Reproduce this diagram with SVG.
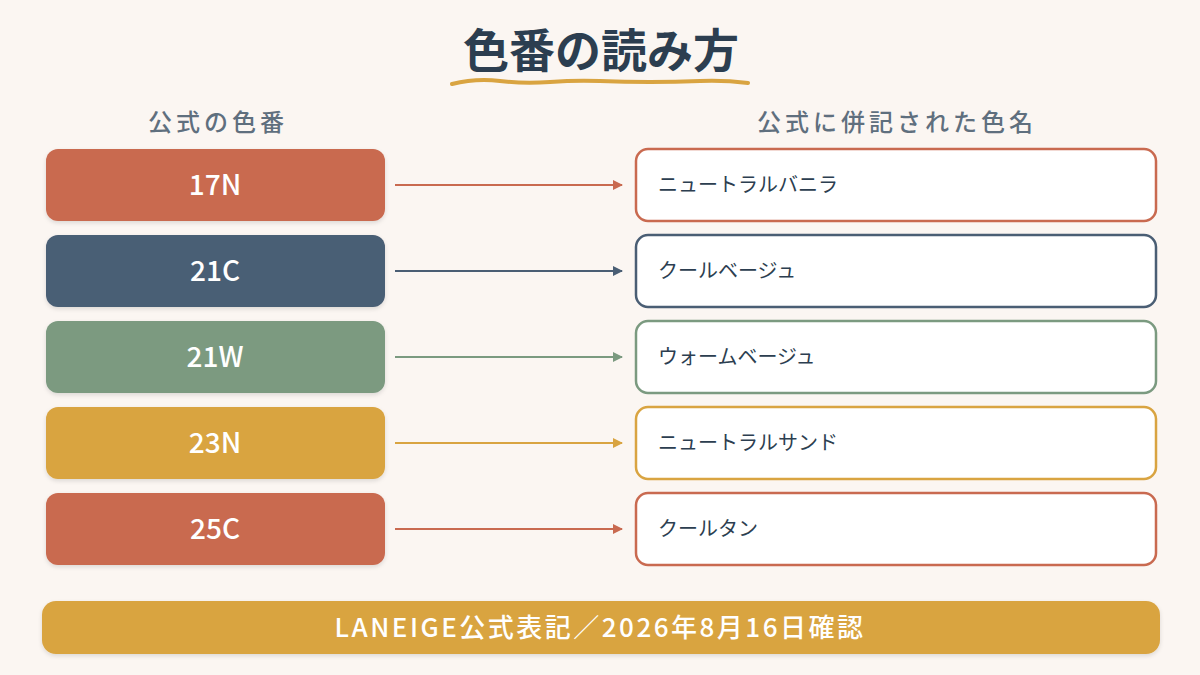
<svg xmlns="http://www.w3.org/2000/svg" width="1200" height="675" viewBox="0 0 1200 675">
<defs>
<style>
.jp{font-family:"Noto Sans CJK JP","Noto Sans",sans-serif}
.title{font-size:46px;font-weight:700;fill:#2C3E50}
.hdr{font-size:24px;font-weight:500;fill:#5F6F7E;letter-spacing:4px}
.code{font-size:28px;font-weight:500;fill:#FFFFFF}
.name{font-size:20px;fill:#2C3E50}
.cbox{stroke:none}
.nbox{fill:#FFFFFF;stroke-width:2.5}
.foot{font-size:26px;font-weight:500;fill:#FFFFFF;letter-spacing:2.5px}
.arr{stroke-width:2;fill:none}
</style>
<filter id="sh" x="-5%" y="-10%" width="110%" height="130%">
<feDropShadow dx="0" dy="2" stdDeviation="2" flood-color="#000" flood-opacity="0.12"/>
</filter>
<marker id="mT" markerWidth="10" markerHeight="10" refX="9" refY="5" orient="auto" markerUnits="userSpaceOnUse"><path d="M0,0 L10,5 L0,10 z" fill="#C96A50"/></marker>
<marker id="mS" markerWidth="10" markerHeight="10" refX="9" refY="5" orient="auto" markerUnits="userSpaceOnUse"><path d="M0,0 L10,5 L0,10 z" fill="#4A5E74"/></marker>
<marker id="mG" markerWidth="10" markerHeight="10" refX="9" refY="5" orient="auto" markerUnits="userSpaceOnUse"><path d="M0,0 L10,5 L0,10 z" fill="#7B9A80"/></marker>
<marker id="mY" markerWidth="10" markerHeight="10" refX="9" refY="5" orient="auto" markerUnits="userSpaceOnUse"><path d="M0,0 L10,5 L0,10 z" fill="#D9A441"/></marker>
</defs>
<rect width="1200" height="675" fill="#FBF6F2"/>
<g id="title">
<text class="jp title" x="601" y="67" text-anchor="middle">色番の読み方</text>
<path d="M452,84 Q476,78 500,81 T550,82 T600,81 T650,82 T700,81 T748,83" stroke="#D9A441" stroke-width="4" fill="none" stroke-linecap="round"/>
</g>
<g id="headers">
<text class="jp hdr" x="218" y="131" text-anchor="middle">公式の色番</text>
<text class="jp hdr" x="897" y="131" text-anchor="middle">公式に併記された色名</text>
</g>
<g id="connectors">
<line class="arr" x1="395" y1="185" x2="622" y2="185" stroke="#C96A50" marker-end="url(#mT)"/>
<line class="arr" x1="395" y1="271" x2="622" y2="271" stroke="#4A5E74" marker-end="url(#mS)"/>
<line class="arr" x1="395" y1="357" x2="622" y2="357" stroke="#7B9A80" marker-end="url(#mG)"/>
<line class="arr" x1="395" y1="443" x2="622" y2="443" stroke="#D9A441" marker-end="url(#mY)"/>
<line class="arr" x1="395" y1="529" x2="622" y2="529" stroke="#C96A50" marker-end="url(#mT)"/>
</g>
<g id="code-17N"><rect class="cbox" x="46" y="149" width="339" height="72" rx="12" fill="#C96A50" filter="url(#sh)"/><text class="jp code" x="215" y="195" text-anchor="middle">17N</text></g>
<g id="code-21C"><rect class="cbox" x="46" y="235" width="339" height="72" rx="12" fill="#4A5E74" filter="url(#sh)"/><text class="jp code" x="215" y="281" text-anchor="middle">21C</text></g>
<g id="code-21W"><rect class="cbox" x="46" y="321" width="339" height="72" rx="12" fill="#7B9A80" filter="url(#sh)"/><text class="jp code" x="215" y="367" text-anchor="middle">21W</text></g>
<g id="code-23N"><rect class="cbox" x="46" y="407" width="339" height="72" rx="12" fill="#D9A441" filter="url(#sh)"/><text class="jp code" x="215" y="453" text-anchor="middle">23N</text></g>
<g id="code-25C"><rect class="cbox" x="46" y="493" width="339" height="72" rx="12" fill="#C96A50" filter="url(#sh)"/><text class="jp code" x="215" y="539" text-anchor="middle">25C</text></g>
<g id="name-1"><rect class="nbox" x="636" y="149" width="520" height="72" rx="12" stroke="#C96A50"/><text class="jp name" x="658" y="192">ニュートラルバニラ</text></g>
<g id="name-2"><rect class="nbox" x="636" y="235" width="520" height="72" rx="12" stroke="#4A5E74"/><text class="jp name" x="658" y="278">クールベージュ</text></g>
<g id="name-3"><rect class="nbox" x="636" y="321" width="520" height="72" rx="12" stroke="#7B9A80"/><text class="jp name" x="658" y="364">ウォームベージュ</text></g>
<g id="name-4"><rect class="nbox" x="636" y="407" width="520" height="72" rx="12" stroke="#D9A441"/><text class="jp name" x="658" y="450">ニュートラルサンド</text></g>
<g id="name-5"><rect class="nbox" x="636" y="493" width="520" height="72" rx="12" stroke="#C96A50"/><text class="jp name" x="658" y="536">クールタン</text></g>
<g id="footer">
<rect x="42" y="601" width="1118" height="53" rx="14" fill="#D9A441" filter="url(#sh)"/>
<text class="jp foot" x="600" y="637" text-anchor="middle">LANEIGE公式表記／2026年8月16日確認</text>
</g>
</svg>
